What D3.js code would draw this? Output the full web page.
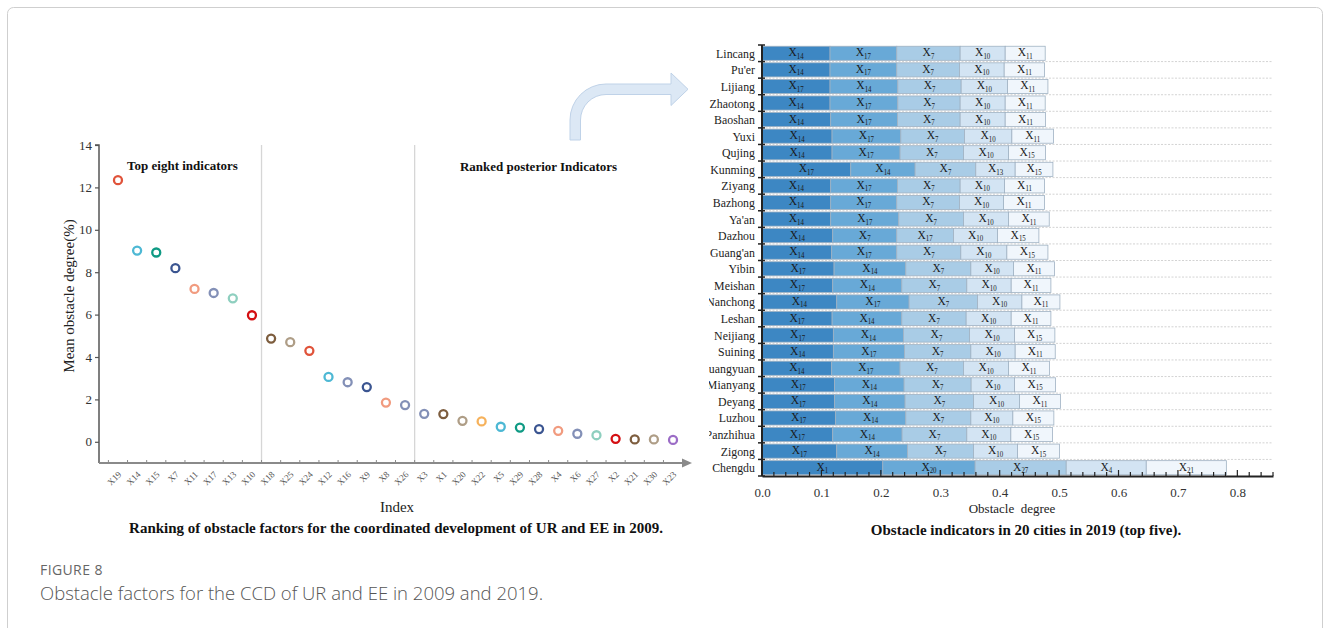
<!DOCTYPE html>
<html>
<head>
<meta charset="utf-8">
<script src="https://cdn.jsdelivr.net/npm/d3@7"></script>
<style>
  html, body { margin: 0; padding: 0; background: #fff; }
  svg { display: block; }
</style>
</head>
<body>
<svg id="fig" width="1330" height="628"></svg>
<script>
// ---- 2009: mean obstacle degree of each indicator, in ranked order ----
const indicators = ["X19","X14","X15","X7","X11","X17","X13","X10",
  "X18","X25","X24","X12","X16","X9","X8","X26",
  "X3","X1","X20","X22","X5","X29","X28","X4","X6","X27","X2","X21","X30","X23"];
const meanObstacle = [12.34, 9.02, 8.93, 8.19, 7.21, 7.02, 6.77, 5.97,
  4.87, 4.70, 4.29, 3.06, 2.81, 2.58, 1.85, 1.73,
  1.32, 1.31, 0.99, 0.96, 0.71, 0.67, 0.60, 0.52, 0.38, 0.31, 0.14, 0.11, 0.11, 0.09];
const dotColors = ["#e0533a","#4db8d4","#0f9a84","#3b5591","#f19b7f","#8390b7","#8ecfbf","#d40f12",
  "#7d5d3e","#ae9d86","#e0533a","#4db8d4","#8390b7","#3b5591","#f19b7f","#8390b7",
  "#8390b7","#7d5d3e","#ae9d86","#f6b25c","#4db8d4","#0f9a84","#3b5591","#f19b7f","#8390b7","#8ecfbf",
  "#d40f12","#7d5d3e","#ae9d86","#9b6cc6"];
const yTicks2009 = [0, 2, 4, 6, 8, 10, 12, 14];

// ---- 2019: top five obstacle indicators per city ----
const cities = ["Lincang","Pu'er","Lijiang","Zhaotong","Baoshan","Yuxi","Qujing","Kunming",
  "Ziyang","Bazhong","Ya'an","Dazhou","Guang'an","Yibin","Meishan","Nanchong","Leshan",
  "Neijiang","Suining","Guangyuan","Mianyang","Deyang","Luzhou","Panzhihua","Zigong","Chengdu"];
const topCodes = [
  ["14","17","7","10","11"], ["14","17","7","10","11"], ["17","14","7","10","11"],
  ["14","17","7","10","11"], ["14","17","7","10","11"], ["14","17","7","10","11"],
  ["14","17","7","10","15"], ["17","14","7","13","15"], ["14","17","7","10","11"],
  ["14","17","7","10","11"], ["14","17","7","10","11"], ["14","7","17","10","15"],
  ["14","17","7","10","15"], ["17","14","7","10","11"], ["17","14","7","10","11"],
  ["14","17","7","10","11"], ["17","14","7","10","11"], ["17","14","7","10","15"],
  ["14","17","7","10","11"], ["14","17","7","10","11"], ["17","14","7","10","15"],
  ["17","14","7","10","11"], ["17","14","7","10","15"], ["17","14","7","10","15"],
  ["17","14","7","10","15"], ["1","20","27","4","21"]
];
const topValues = [
  [0.1145, 0.1123, 0.1067, 0.0758, 0.0673],
  [0.1145, 0.1123, 0.1055, 0.0753, 0.0679],
  [0.1145, 0.1141, 0.1066, 0.0780, 0.0680],
  [0.1145, 0.1141, 0.1049, 0.0758, 0.0673],
  [0.1156, 0.1123, 0.1056, 0.0758, 0.0679],
  [0.1179, 0.1157, 0.1071, 0.0798, 0.0701],
  [0.1179, 0.1145, 0.1067, 0.0758, 0.0623],
  [0.1494, 0.1083, 0.1021, 0.0663, 0.0635],
  [0.1156, 0.1123, 0.1056, 0.0747, 0.0673],
  [0.1156, 0.1112, 0.1055, 0.0742, 0.0690],
  [0.1156, 0.1146, 0.1089, 0.0758, 0.0685],
  [0.1190, 0.1078, 0.0955, 0.0740, 0.0697],
  [0.1173, 0.1095, 0.1078, 0.0775, 0.0691],
  [0.1213, 0.1207, 0.1095, 0.0718, 0.0690],
  [0.1190, 0.1163, 0.1094, 0.0747, 0.0668],
  [0.1258, 0.1218, 0.1150, 0.0748, 0.0640],
  [0.1180, 0.1173, 0.1083, 0.0758, 0.0668],
  [0.1201, 0.1180, 0.1111, 0.0758, 0.0679],
  [0.1201, 0.1197, 0.1117, 0.0746, 0.0674],
  [0.1173, 0.1151, 0.1067, 0.0758, 0.0690],
  [0.1219, 0.1173, 0.1128, 0.0730, 0.0690],
  [0.1219, 0.1189, 0.1152, 0.0774, 0.0690],
  [0.1235, 0.1185, 0.1095, 0.0707, 0.0690],
  [0.1190, 0.1168, 0.1089, 0.0741, 0.0702],
  [0.1258, 0.1190, 0.1112, 0.0741, 0.0707],
  [0.2033, 0.1554, 0.1533, 0.1347, 0.1348]
];
const rankColors = ["#3d87c3", "#68a9d7", "#a9cce6", "#d3e4f3", "#f0f6fc"];
const xTicks2019 = [0, 0.1, 0.2, 0.3, 0.4, 0.5, 0.6, 0.7, 0.8];

const SERIF = "'Liberation Serif', 'Times New Roman', serif";
const svg = d3.select("#fig");

// page frame
svg.append("rect")
  .attr("x", 7.5).attr("y", 7.5).attr("width", 1315).attr("height", 660)
  .attr("rx", 6).attr("fill", "none").attr("stroke", "#cfcfcf").attr("stroke-width", 1);

// ================= 2009 dot chart =================
const L = { left: 99, right: 692, top: 145, bottom: 463 };
const xL = d3.scaleBand().domain(indicators).range([108.4, 108.4 + 30 * 19.14]);
const yL = d3.scaleLinear().domain([-1, 14]).range([L.bottom, L.top]);
const gL = svg.append("g");

// group separators
[8, 16].forEach(i => {
  const x = xL(indicators[i]);
  gL.append("line").attr("x1", x).attr("x2", x).attr("y1", L.top).attr("y2", L.bottom)
    .attr("stroke", "#d6d6d6").attr("stroke-width", 1.3);
});

// y axis
const yAxisL = d3.axisLeft(yL).tickValues(yTicks2009).tickSize(4).tickPadding(3).tickFormat(d3.format("d"));
const gyL = gL.append("g").attr("transform", `translate(${L.left},0)`).call(yAxisL);
gyL.select(".domain").attr("stroke", "#555").attr("stroke-width", 1.5).attr("d", `M-4,${L.top}H0V${L.bottom}`);
gyL.selectAll(".tick line").attr("stroke", "#555").attr("stroke-width", 1.2);
gyL.selectAll(".tick text").attr("font-family", SERIF).attr("font-size", 13).attr("fill", "#333");

// x axis with arrow
gL.append("line").attr("x1", L.left).attr("x2", L.right - 8).attr("y1", L.bottom).attr("y2", L.bottom)
  .attr("stroke", "#8a8a8a").attr("stroke-width", 2);
gL.append("path").attr("d", `M${L.right - 10},${L.bottom - 4.5}L${L.right},${L.bottom}L${L.right - 10},${L.bottom + 4.5}Z`)
  .attr("fill", "#8a8a8a");
const bounds = indicators.map(d => xL(d)).concat([xL(indicators[29]) + xL.bandwidth()]);
gL.selectAll(".xtick").data(bounds).join("line")
  .attr("x1", d => d).attr("x2", d => d).attr("y1", L.bottom).attr("y2", L.bottom - 3)
  .attr("stroke", "#8a8a8a").attr("stroke-width", 1);
gL.selectAll(".xlab").data(indicators).join("text")
  .attr("transform", d => `translate(${xL(d) + xL.bandwidth() / 2 + 4},${L.bottom + 12}) rotate(-45)`)
  .attr("text-anchor", "end").attr("font-family", SERIF).attr("font-size", 9).attr("fill", "#555")
  .text(d => d);

// points
gL.selectAll(".dot").data(indicators).join("circle")
  .attr("cx", d => xL(d) + xL.bandwidth() / 2)
  .attr("cy", (d, i) => yL(meanObstacle[i]))
  .attr("r", 4).attr("fill", "#fff")
  .attr("stroke", (d, i) => dotColors[i]).attr("stroke-width", 2.3);

// annotations and titles
gL.append("text").attr("x", 182.5).attr("y", 170).attr("text-anchor", "middle")
  .attr("font-family", SERIF).attr("font-weight", "bold").attr("font-size", 13).attr("fill", "#111")
  .text("Top eight indicators");
gL.append("text").attr("x", 538.5).attr("y", 171).attr("text-anchor", "middle")
  .attr("font-family", SERIF).attr("font-weight", "bold").attr("font-size", 13).attr("fill", "#111")
  .text("Ranked posterior Indicators");
gL.append("text").attr("transform", "translate(74,296) rotate(-90)").attr("text-anchor", "middle")
  .attr("font-family", SERIF).attr("font-size", 15).attr("fill", "#222")
  .text("Mean obstacle degree(%)");
gL.append("text").attr("x", 397).attr("y", 512).attr("text-anchor", "middle")
  .attr("font-family", SERIF).attr("font-size", 15).attr("fill", "#222").text("Index");
gL.append("text").attr("x", 396).attr("y", 533).attr("text-anchor", "middle")
  .attr("font-family", SERIF).attr("font-weight", "bold").attr("font-size", 15).attr("fill", "#111")
  .text("Ranking of obstacle factors for the coordinated development of UR and EE in 2009.");

// connecting arrow
svg.append("path")
  .attr("d", "M570,140L570,120A36,36 0 0 1 606,84L671,84L671,73L688,89.25L671,105.5L671,94.5L606,94.5A25.5,25.5 0 0 0 580.5,120L580.5,140Z")
  .attr("fill", "#dce8f5").attr("stroke", "#bfd2e8").attr("stroke-width", 1);

// ================= 2019 stacked bars =================
const R = { left: 762, right: 1273, top: 45, bottom: 476 };
svg.append("clipPath").attr("id", "rclip").append("rect")
  .attr("x", 709).attr("y", 0).attr("width", 620).attr("height", 628);
const gR = svg.append("g").attr("clip-path", "url(#rclip)");
const xR = d3.scaleLinear().domain([0, 0.86]).range([R.left, R.right]);
const yR = d3.scaleBand().domain(cities).range([R.top, R.bottom]).paddingInner(0.15).paddingOuter(0.075);
const step = yR.step();

// dotted separators between rows
const rowEdges = d3.range(cities.length + 1).map(i => R.top + i * step);
gR.selectAll(".grid").data(rowEdges.slice(1, -1)).join("line")
  .attr("x1", R.left).attr("x2", R.right).attr("y1", d => d).attr("y2", d => d)
  .attr("stroke", "#c8c8c8").attr("stroke-width", 0.8).attr("stroke-dasharray", "2,1.5");

// bars, each segment labelled with its indicator
cities.forEach((city, ci) => {
  let acc = 0;
  const row = gR.append("g");
  topValues[ci].forEach((v, k) => {
    const x0 = xR(acc), x1 = xR(acc + v);
    acc += v;
    row.append("rect")
      .attr("x", x0).attr("y", yR(city)).attr("width", x1 - x0).attr("height", yR.bandwidth())
      .attr("fill", rankColors[k]).attr("stroke", "#9fb1c2").attr("stroke-width", 0.8);
    const t = row.append("text")
      .attr("transform", `translate(${(x0 + x1) / 2},${yR(city) + yR.bandwidth() / 2 + 3}) scale(0.92,1)`)
      .attr("text-anchor", "middle").attr("font-family", SERIF).attr("font-size", 12.5).attr("fill", "#1a1a1a");
    t.append("tspan").text("X");
    t.append("tspan").attr("font-size", 7.5).attr("dy", 2.5).text(topCodes[ci][k]);
  });
});

// y axis
gR.append("line").attr("x1", R.left).attr("x2", R.left).attr("y1", R.top).attr("y2", R.bottom)
  .attr("stroke", "#222").attr("stroke-width", 2);
gR.selectAll(".ytick").data(rowEdges).join("line")
  .attr("x1", R.left - 4).attr("x2", R.left + 3).attr("y1", d => d).attr("y2", d => d)
  .attr("stroke", "#222").attr("stroke-width", 1.5);
gR.selectAll(".city").data(cities).join("text")
  .attr("transform", d => `translate(755,${yR(d) + yR.bandwidth() / 2 + 4.5}) scale(0.95,1)`)
  .attr("text-anchor", "end").attr("font-family", SERIF).attr("font-size", 12.5).attr("fill", "#222")
  .text(d => d);

// x axis
const xAxisR = d3.axisBottom(xR).tickValues(xTicks2019).tickSize(0).tickPadding(12).tickFormat(d3.format(".1f"));
const gxR = gR.append("g").attr("transform", `translate(0,${R.bottom})`).call(xAxisR);
gxR.select(".domain").attr("stroke", "#222").attr("stroke-width", 2);
gxR.selectAll(".tick text").attr("font-family", SERIF).attr("font-size", 13).attr("fill", "#333");
const minor = d3.range(0, 44).map(i => i * 0.02);
gR.selectAll(".mtick").data(minor).join("line")
  .attr("x1", d => xR(d)).attr("x2", d => xR(d))
  .attr("y1", R.bottom).attr("y2", (d, i) => R.bottom - (i % 5 === 0 ? 6 : 4))
  .attr("stroke", "#222").attr("stroke-width", 1.2);

gR.append("text").attr("x", 1012).attr("y", 513).attr("text-anchor", "middle")
  .attr("font-family", SERIF).attr("font-size", 13).attr("fill", "#222")
  .attr("xml:space", "preserve").text("Obstacle  degree");
gR.append("text").attr("x", 1026).attr("y", 535).attr("text-anchor", "middle")
  .attr("font-family", SERIF).attr("font-weight", "bold").attr("font-size", 15).attr("fill", "#111")
  .text("Obstacle indicators in 20 cities in 2019 (top five).");

// ================= figure caption =================
svg.append("text").attr("x", 40).attr("y", 575)
  .attr("font-family", "'Open Sans', sans-serif").attr("font-size", 14).attr("letter-spacing", 0.4).attr("fill", "#666")
  .text("FIGURE 8");
svg.append("text").attr("x", 40).attr("y", 600)
  .attr("font-family", "'Open Sans', sans-serif").attr("font-weight", 300).attr("font-size", 18.5).attr("fill", "#555")
  .text("Obstacle factors for the CCD of UR and EE in 2009 and 2019.");
</script>
</body>
</html>
